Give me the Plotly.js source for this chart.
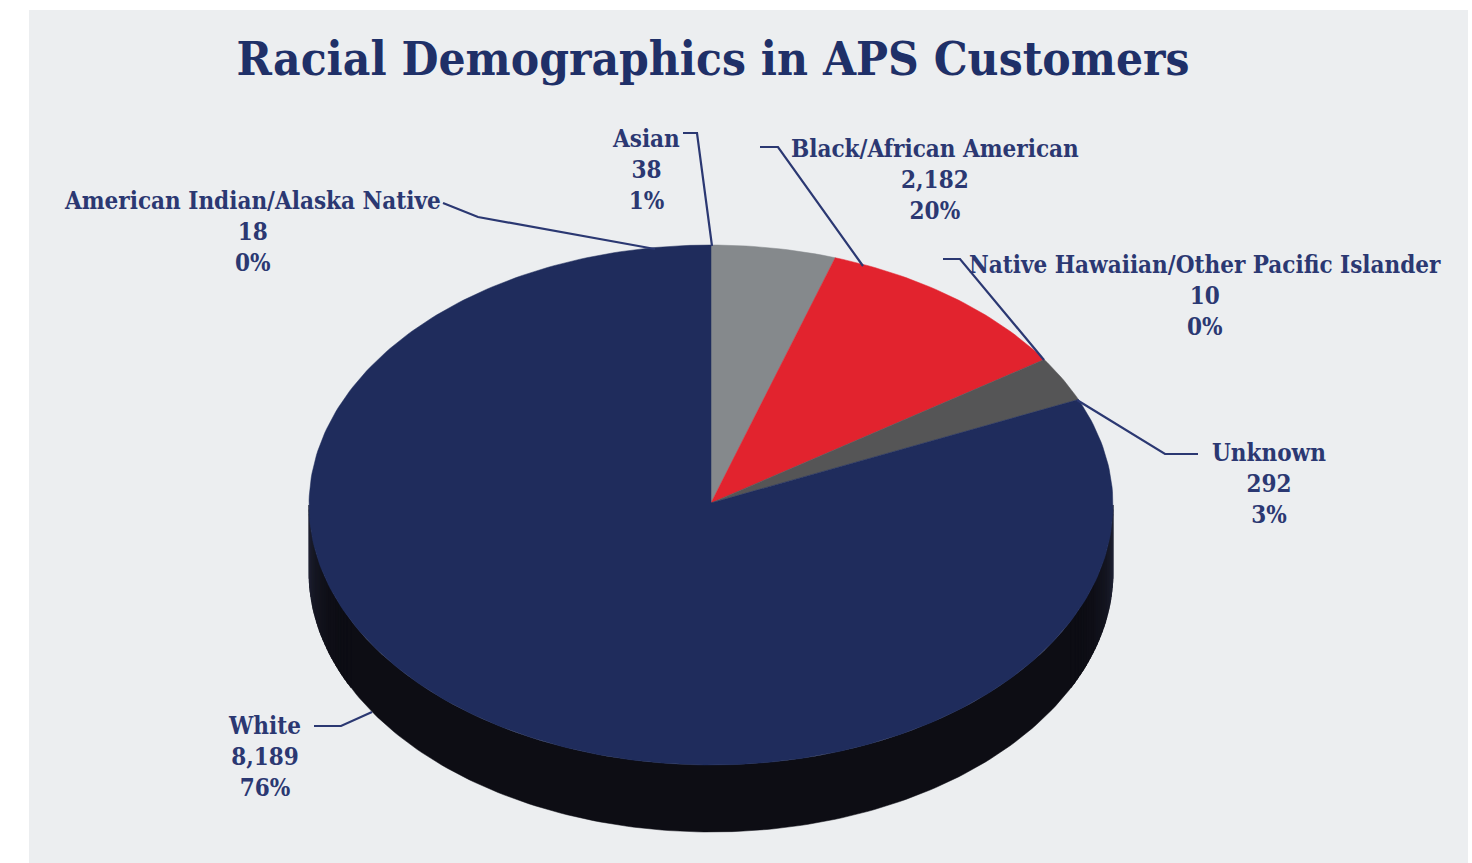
<!DOCTYPE html>
<html>
<head>
<meta charset="utf-8">
<script src="https://cdn.plot.ly/plotly-3.0.1.min.js"></script>
<style>html,body{margin:0;padding:0;background:#fff}#chart{width:1472px;height:863px}</style>
</head>
<body>
<div id="chart"></div>
<script>
// Data
const categories = ["Asian", "Black/African American", "Unknown", "White"];
// the share of the drawn disc that each visible slice takes up in the picture
const drawnShares = [5.0, 10.55, 2.8, 81.65];
const sliceColors = ["#85898c", "#e2232e", "#555556", "#1f2c5c"];

const labelNames = ["American Indian/Alaska Native", "Asian", "Black/African American",
  "Native Hawaiian/Other Pacific Islander", "Unknown", "White"];
const labelCounts = ["18", "38", "2,182", "10", "292", "8,189"];
const labelPercents = ["0%", "1%", "20%", "0%", "3%", "76%"];

// Layout of the tilted disc, in axis units (the axes span the page)
const disc = {cx: 711, cy: 505, rx: 402, ry: 260, apexY: 503, depth: 67};
const labelPos = [[252, 231], [646, 169], [935, 179], [1205, 295], [1269, 483], [264, 756]];
const leaders = [
  [[443, 203], [478, 217], [655, 249]],
  [[683, 133], [697, 133], [712, 246]],
  [[760, 147], [778, 147], [863, 266]],
  [[943, 259], [960, 259], [1044, 360]],
  [[1198, 454], [1165, 454], [1077, 400]],
  [[314, 726], [341, 726], [372, 712]]
];
const SERIF = '"DejaVu Serif Condensed", "Liberation Serif", serif';
const LABEL_FONT = {family: SERIF, size: 24, weight: 700, color: "#2b3872"};

const rimPoint = (deg, dy) => {
  const a = deg * Math.PI / 180;
  return [disc.cx + disc.rx * Math.sin(a), disc.cy - disc.ry * Math.cos(a) + (dy || 0)];
};
const arc = (from, to, dy) => {
  const pts = [], n = Math.max(2, Math.ceil(Math.abs(to - from)));
  for (let i = 0; i <= n; i++) pts.push(rimPoint(from + (to - from) * i / n, dy));
  return pts;
};
const addSide = (from, to, color) => {
  const pts = arc(from, to, 0).concat(arc(to, from, disc.depth));
  pts.push(pts[0]);
  traces.push({x: pts.map(p => p[0]), y: pts.map(p => p[1]), type: "scatter", mode: "lines",
    fill: "toself", fillcolor: color, line: {width: 0.5, color: color},
    hoverinfo: "skip", showlegend: false});
};

const traces = [];
// Side wall: a dark base, with lighter bands towards both ends of the rim
const mix = (t) => {
  const a = [13, 13, 20], b = [38, 42, 62];
  return "rgb(" + a.map((v, i) => Math.round(v + (b[i] - v) * t)).join(",") + ")";
};
addSide(90, 270, mix(0));
const FADE = 26;
for (let k = 0; k < FADE; k++) {
  const t = Math.pow(1 - (k + 0.5) / FADE, 2);
  addSide(90 + k, 91.5 + k, mix(t));
  addSide(268.5 - k, 270 - k, mix(t));
}

// Top face: each slice's sweep comes from its drawn share
const total = drawnShares.reduce((a, b) => a + b, 0);
let cum = 0;
categories.forEach((name, i) => {
  const start = cum / total * 360;
  cum += drawnShares[i];
  const end = cum / total * 360;
  const pts = [[disc.cx, disc.apexY]].concat(arc(start, end, 0));
  pts.push([disc.cx, disc.apexY]);
  traces.push({x: pts.map(p => p[0]), y: pts.map(p => p[1]), type: "scatter", mode: "lines",
    fill: "toself", fillcolor: sliceColors[i], line: {width: 0.5, color: sliceColors[i]},
    name: name, hoverinfo: "name", showlegend: false});
});

const annotations = labelNames.map((n, i) => ({
  text: n + "<br>" + labelCounts[i] + "<br>" + labelPercents[i],
  x: labelPos[i][0], y: labelPos[i][1], xref: "x", yref: "y",
  showarrow: false, align: "center", xanchor: "center", yanchor: "middle", font: LABEL_FONT
}));

const shapes = [{type: "rect", xref: "x", yref: "y", x0: 29, x1: 1468, y0: 10, y1: 863,
  fillcolor: "#eceef0", line: {width: 0}, layer: "below"}];
leaders.forEach(l => shapes.push({
  type: "path", xref: "x", yref: "y",
  path: "M" + l.map(p => p.join(",")).join("L"),
  line: {color: "#2b3872", width: 2.2}, layer: "above"
}));

Plotly.newPlot("chart", traces, {
  width: 1472, height: 863,
  margin: {l: 0, r: 0, t: 0, b: 0},
  paper_bgcolor: "#ffffff", plot_bgcolor: "rgba(0,0,0,0)",
  title: {text: "Racial Demographics in APS Customers", x: 713 / 1472, xanchor: "center",
    y: 1 - 58 / 863, yanchor: "middle",
    font: {family: SERIF, size: 47.4, weight: 700, color: "#1f3068"}},
  xaxis: {range: [0, 1472], visible: false, fixedrange: true},
  yaxis: {range: [863, 0], visible: false, fixedrange: true},
  showlegend: false, shapes: shapes, annotations: annotations
}, {displayModeBar: false});
</script>
</body>
</html>
